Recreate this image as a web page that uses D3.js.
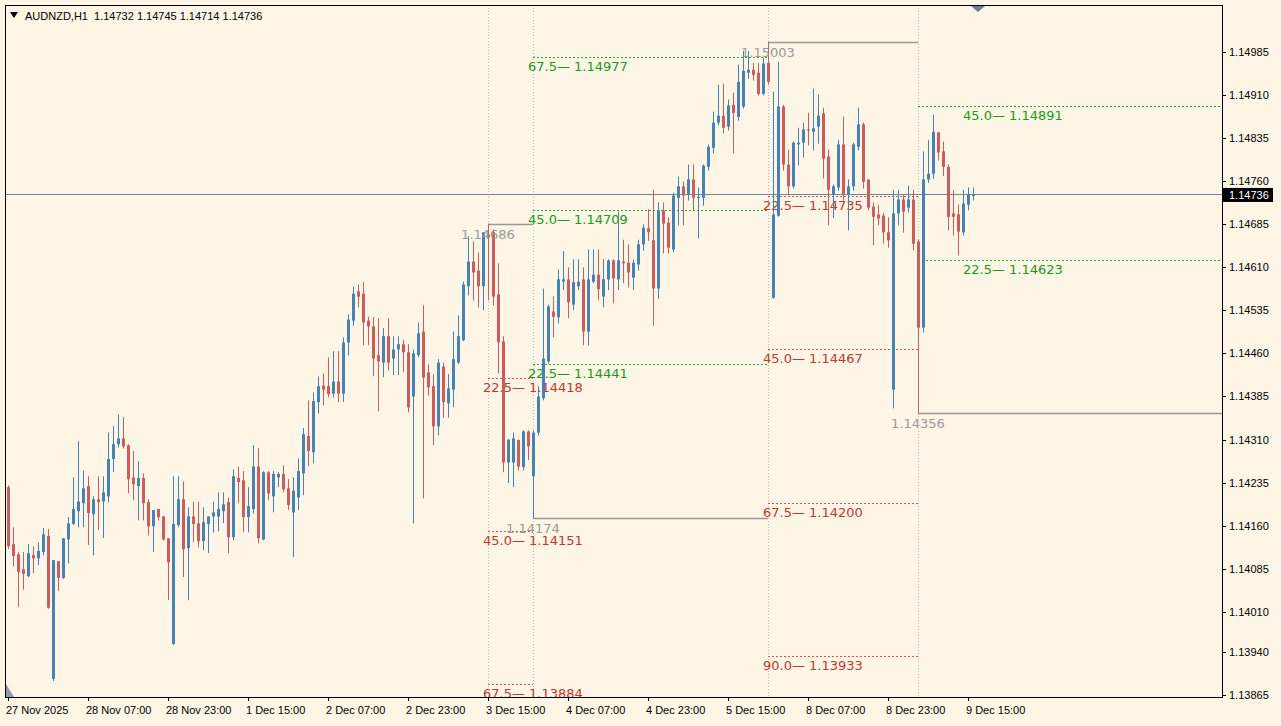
<!DOCTYPE html>
<html><head><meta charset="utf-8">
<script src="https://cdn.jsdelivr.net/npm/d3@7"></script>
<style>
body{margin:0;background:#fdf5e6;}
svg{display:block;font-family:"DejaVu Sans",sans-serif;}
</style></head>
<body><div id="content"></div>
<script>
var W = 1281, H = 726
var plotL = 5, plotR = 1222, plotT = 5, plotB = 697

var open = [1.14227,1.14128,1.14110,1.14084,1.14072,1.14109,1.14103,1.14114,1.14142,1.13893,
1.14098,1.14069,1.14136,1.14163,1.14185,1.14199,1.14229,1.14180,1.14206,1.14202,
1.14211,1.14276,1.14302,1.14312,1.14300,1.14244,1.14229,1.14243,1.14201,1.14159,
1.14189,1.14176,1.14138,1.13954,1.14161,1.14206,1.14121,1.14176,1.14164,1.14133,
1.14163,1.14176,1.14176,1.14185,1.14201,1.14140,1.14243,1.14239,1.14175,1.14189,
1.14263,1.14136,1.14253,1.14211,1.14244,1.14250,1.14225,1.14183,1.14209,1.14251,
1.14316,1.14288,1.14375,1.14404,1.14403,1.14390,1.14411,1.14390,1.14479,1.14517,
1.14568,1.14564,1.14517,1.14507,1.14457,1.14444,1.14490,1.14451,1.14467,1.14476,
1.14462,1.14385,1.14457,1.14498,1.14427,1.14403,1.14333,1.14437,1.14373,1.14397,
1.14444,1.14483,1.14577,1.14620,1.14604,1.14577,1.14667,1.14671,1.14563,1.14481,
1.14270,1.14270,1.14309,1.14262,1.14324,1.14246,1.14322,1.14382,1.14446,1.14533,
1.14523,1.14585,1.14589,1.14545,1.14577,1.14589,1.14498,1.14585,1.14597,1.14559,
1.14589,1.14622,1.14589,1.14620,1.14618,1.14592,1.14615,1.14650,1.14678,1.14657,
1.14573,1.14709,1.14688,1.14641,1.14731,1.14751,1.14737,1.14763,1.14731,1.14731,
1.14785,1.14818,1.14862,1.14874,1.14855,1.14893,1.14872,1.14890,1.14949,1.14954,
1.14949,1.14912,1.14966,1.14557,1.14700,1.14890,1.14789,1.14751,1.14824,1.14827,
1.14850,1.14846,1.14855,1.14878,1.14803,1.14737,1.14749,1.14824,1.14737,1.14751,
1.14820,1.14859,1.14763,1.14716,1.14702,1.14700,1.14671,1.14397,1.14704,1.14728,
1.14714,1.14728,1.14655,1.14505,1.14763,1.14773,1.14845,1.14812,1.14785,1.14704,
1.14702,1.14671,1.14719,1.14735]

var high = [1.14230,1.14157,1.14114,1.14114,1.14128,1.14124,1.14131,1.14156,1.14154,1.14100,
1.14098,1.14138,1.14175,1.14244,1.14307,1.14256,1.14246,1.14211,1.14246,1.14246,
1.14322,1.14333,1.14354,1.14349,1.14302,1.14290,1.14272,1.14251,1.14206,1.14187,
1.14189,1.14176,1.14138,1.14246,1.14246,1.14237,1.14192,1.14201,1.14202,1.14192,
1.14176,1.14202,1.14218,1.14218,1.14209,1.14258,1.14263,1.14255,1.14227,1.14300,
1.14295,1.14255,1.14255,1.14255,1.14253,1.14265,1.14241,1.14244,1.14277,1.14330,
1.14378,1.14392,1.14420,1.14425,1.14453,1.14464,1.14464,1.14488,1.14528,1.14577,
1.14580,1.14584,1.14524,1.14523,1.14521,1.14504,1.14521,1.14490,1.14490,1.14484,
1.14476,1.14467,1.14514,1.14544,1.14441,1.14424,1.14450,1.14444,1.14424,1.14498,
1.14526,1.14585,1.14664,1.14655,1.14636,1.14671,1.14686,1.14676,1.14617,1.14490,
1.14310,1.14322,1.14310,1.14326,1.14326,1.14326,1.14403,1.14573,1.14545,1.14559,
1.14606,1.14638,1.14610,1.14624,1.14624,1.14610,1.14641,1.14641,1.14641,1.14624,
1.14624,1.14624,1.14707,1.14658,1.14650,1.14624,1.14658,1.14685,1.14711,1.14745,
1.14723,1.14723,1.14697,1.14740,1.14768,1.14759,1.14789,1.14789,1.14749,1.14789,
1.14824,1.14881,1.14928,1.14930,1.14902,1.14914,1.14963,1.14987,1.14987,1.14966,
1.14966,1.14975,1.15003,1.14916,1.14968,1.14893,1.14815,1.14829,1.14853,1.14862,
1.14879,1.14921,1.14911,1.14888,1.14815,1.14754,1.14832,1.14872,1.14763,1.14827,
1.14888,1.14862,1.14763,1.14723,1.14719,1.14705,1.14697,1.14745,1.14745,1.14737,
1.14752,1.14745,1.14658,1.14812,1.14832,1.14876,1.14846,1.14829,1.14789,1.14745,
1.14719,1.14745,1.14749,1.14749]

var low = [1.14121,1.14091,1.14020,1.14050,1.14072,1.14079,1.14093,1.14110,1.14017,1.13891,
1.14048,1.14069,1.14096,1.14163,1.14159,1.14159,1.14128,1.14110,1.14154,1.14140,
1.14202,1.14255,1.14298,1.14296,1.14218,1.14206,1.14171,1.14171,1.14145,1.14116,
1.14171,1.14136,1.14032,1.13954,1.14159,1.14072,1.14032,1.14133,1.14124,1.14119,
1.14114,1.14150,1.14152,1.14166,1.14114,1.14136,1.14201,1.14150,1.14150,1.14183,
1.14131,1.14136,1.14206,1.14185,1.14229,1.14220,1.14189,1.14107,1.14189,1.14215,
1.14265,1.14270,1.14357,1.14371,1.14385,1.14385,1.14377,1.14377,1.14458,1.14510,
1.14542,1.14476,1.14476,1.14422,1.14361,1.14420,1.14432,1.14424,1.14424,1.14429,
1.14359,1.14166,1.14455,1.14209,1.14389,1.14302,1.14319,1.14350,1.14350,1.14368,
1.14443,1.14483,1.14563,1.14554,1.14542,1.14537,1.14554,1.14545,1.14427,1.14255,
1.14236,1.14229,1.14258,1.14258,1.14276,1.14174,1.14319,1.14380,1.14444,1.14490,
1.14514,1.14572,1.14523,1.14537,1.14572,1.14476,1.14476,1.14584,1.14554,1.14542,
1.14572,1.14549,1.14572,1.14584,1.14577,1.14572,1.14606,1.14641,1.14658,1.14510,
1.14557,1.14636,1.14636,1.14638,1.14685,1.14685,1.14728,1.14711,1.14662,1.14719,
1.14780,1.14810,1.14859,1.14845,1.14850,1.14810,1.14867,1.14888,1.14940,1.14937,
1.14911,1.14911,1.14930,1.14557,1.14700,1.14780,1.14737,1.14749,1.14789,1.14803,
1.14824,1.14815,1.14827,1.14766,1.14685,1.14697,1.14745,1.14728,1.14676,1.14745,
1.14815,1.14749,1.14711,1.14650,1.14685,1.14653,1.14646,1.14366,1.14685,1.14672,
1.14707,1.14641,1.14356,1.14498,1.14759,1.14766,1.14798,1.14771,1.14676,1.14667,
1.14632,1.14667,1.14711,1.14728]

var close = [1.14124,1.14107,1.14079,1.14076,1.14112,1.14103,1.14116,1.14145,1.14017,1.14100,
1.14069,1.14138,1.14164,1.14189,1.14202,1.14225,1.14182,1.14206,1.14201,1.14218,
1.14276,1.14302,1.14312,1.14298,1.14241,1.14232,1.14243,1.14199,1.14159,1.14187,
1.14175,1.14136,1.14096,1.14163,1.14206,1.14119,1.14176,1.14163,1.14133,1.14166,
1.14176,1.14183,1.14189,1.14197,1.14140,1.14246,1.14236,1.14175,1.14194,1.14263,
1.14138,1.14253,1.14216,1.14250,1.14250,1.14223,1.14196,1.14221,1.14255,1.14319,
1.14290,1.14377,1.14403,1.14397,1.14389,1.14411,1.14390,1.14479,1.14519,1.14564,
1.14559,1.14514,1.14507,1.14451,1.14446,1.14490,1.14444,1.14467,1.14476,1.14462,
1.14366,1.14460,1.14495,1.14418,1.14401,1.14333,1.14444,1.14375,1.14399,1.14450,
1.14490,1.14580,1.14620,1.14601,1.14577,1.14671,1.14662,1.14559,1.14479,1.14270,
1.14310,1.14312,1.14263,1.14324,1.14298,1.14322,1.14385,1.14451,1.14542,1.14524,
1.14589,1.14589,1.14549,1.14584,1.14585,1.14498,1.14589,1.14597,1.14572,1.14589,
1.14622,1.14591,1.14622,1.14617,1.14601,1.14618,1.14650,1.14679,1.14671,1.14573,
1.14709,1.14686,1.14644,1.14735,1.14751,1.14735,1.14763,1.14731,1.14733,1.14787,
1.14820,1.14862,1.14874,1.14853,1.14892,1.14879,1.14933,1.14952,1.14954,1.14945,
1.14912,1.14965,1.14933,1.14702,1.14890,1.14789,1.14751,1.14827,1.14827,1.14850,
1.14848,1.14852,1.14874,1.14799,1.14745,1.14751,1.14824,1.14737,1.14751,1.14824,
1.14859,1.14759,1.14714,1.14698,1.14695,1.14671,1.14657,1.14704,1.14728,1.14707,
1.14728,1.14651,1.14505,1.14763,1.14773,1.14846,1.14810,1.14785,1.14698,1.14698,
1.14672,1.14721,1.14737,1.14736]

// time axis: one label every 16 bars
var timeLabels = ['27 Nov 2025','28 Nov 07:00','28 Nov 23:00','1 Dec 15:00','2 Dec 07:00','2 Dec 23:00',
  '3 Dec 15:00','4 Dec 07:00','4 Dec 23:00','5 Dec 15:00','8 Dec 07:00','8 Dec 23:00','9 Dec 15:00']
var priceTicks = [1.14985,1.14910,1.14835,1.14760,1.14685,1.14610,1.14535,1.14460,1.14385,1.14310,
  1.14235,1.14160,1.14085,1.14010,1.13940,1.13865]

// swing points of the zigzag / fibo indicator
var pivotBars = [96,105,152,182]
var pivotPrices = [1.14686,1.14174,1.15003,1.14356]

var fibFrom  = [105,105,105,182,182,96,96,96,152,152,152,152]
var fibTo    = [152,152,152,null,null,105,105,105,182,182,182,182]
var fibLabelBar = [105,105,105,192,192,96,96,96,152,152,152,152]
var fibPct   = ['67.5','45.0','22.5','45.0','22.5','22.5','45.0','67.5','22.5','45.0','67.5','90.0']
var fibPrice = [1.14977,1.14709,1.14441,1.14891,1.14623,1.14418,1.14151,1.13884,1.14735,1.14467,1.14200,1.13933]
var fibUp    = [true,true,true,true,true,false,false,false,false,false,false,false]

var lastPrice = 1.14736
var header = 'AUDNZD,H1  1.14732 1.14745 1.14714 1.14736'

var bull = '#4682b4', bear = '#cd5c5c'

var x = d3.scaleLinear().domain([0, 16]).range([8, 88])
var y = d3.scaleLinear().domain([1.13865, 1.14985]).range([695, 52])

var svg = d3.select('#content').append('svg')
    .attr('width', W).attr('height', H)

svg.append('rect').attr('width', W).attr('height', H).attr('fill', '#fdf5e6')

// pivot vertical dotted lines
svg.append('g').selectAll('line').data(pivotBars).join('line')
    .attr('x1', d => Math.round(x(d)) + 0.5).attr('x2', d => Math.round(x(d)) + 0.5)
    .attr('y1', plotT).attr('y2', plotB)
    .attr('stroke', '#bbb').attr('stroke-dasharray', '1,2')

// fib lines
var fib = svg.append('g')
fib.selectAll('line').data(fibPrice).join('line')
    .attr('x1', (d, i) => x(fibFrom[i]))
    .attr('x2', (d, i) => fibTo[i] == null ? plotR : x(fibTo[i]))
    .attr('y1', d => Math.round(y(d)) + 0.5).attr('y2', d => Math.round(y(d)) + 0.5)
    .attr('stroke', (d, i) => fibUp[i] ? '#2ca02c' : '#d9534f')
    .attr('stroke-dasharray', '2,2').attr('stroke-width', 1)

// current price line
svg.append('line')
    .attr('x1', plotL).attr('x2', plotR)
    .attr('y1', Math.round(y(lastPrice)) - 0.5).attr('y2', Math.round(y(lastPrice)) - 0.5)
    .attr('stroke', '#6f86a6').attr('stroke-width', 1)

// zigzag horizontal gray lines
svg.append('g').selectAll('line').data(pivotPrices).join('line')
    .attr('x1', (d, i) => x(pivotBars[i]))
    .attr('x2', (d, i) => i < pivotBars.length - 1 ? x(pivotBars[i + 1]) : plotR)
    .attr('y1', d => Math.round(y(d)) + 0.5).attr('y2', d => Math.round(y(d)) + 0.5)
    .attr('stroke', '#999').attr('stroke-width', 1.5)

// candles
var candles = svg.append('g')
candles.selectAll('line').data(close).join('line')
    .attr('x1', (d, i) => Math.round(x(i)) + 0.5).attr('x2', (d, i) => Math.round(x(i)) + 0.5)
    .attr('y1', (d, i) => y(high[i])).attr('y2', (d, i) => y(low[i]) + 1)
    .attr('stroke', (d, i) => d >= open[i] ? bull : bear)
candles.selectAll('rect').data(close).join('rect')
    .attr('x', (d, i) => Math.round(x(i)) - 1)
    .attr('y', (d, i) => y(Math.max(d, open[i])))
    .attr('width', 3)
    .attr('height', (d, i) => Math.max(1, y(Math.min(d, open[i])) - y(Math.max(d, open[i]))))
    .attr('fill', (d, i) => d >= open[i] ? bull : bear)

// fib labels
fib.selectAll('text').data(fibPrice).join('text')
    .attr('x', (d, i) => x(fibLabelBar[i]) - 5)
    .attr('y', d => y(d) + 14)
    .attr('font-size', 13)
    .attr('fill', (d, i) => fibUp[i] ? '#1a9a1a' : '#c0392b')
    .text((d, i) => fibPct[i] + '\u2014 ' + d.toFixed(5))

// pivot labels
svg.append('g').selectAll('text').data(pivotPrices).join('text')
    .attr('x', (d, i) => x(pivotBars[i]))
    .attr('y', d => y(d) + 15)
    .attr('text-anchor', 'middle')
    .attr('font-size', 13)
    .attr('fill', '#9a9a9a')
    .text(d => d.toFixed(5))

// frame
svg.append('rect').attr('x', plotL + 0.5).attr('y', plotT + 0.5)
    .attr('width', plotR - plotL).attr('height', plotB - plotT)
    .attr('fill', 'none').attr('stroke', '#000')

// price axis
var pa = svg.append('g').attr('font-family', 'Liberation Sans, Arial, sans-serif').attr('font-size', 11)
pa.selectAll('line').data(priceTicks).join('line')
    .attr('x1', plotR).attr('x2', plotR + 4)
    .attr('y1', d => Math.round(y(d)) + 0.5).attr('y2', d => Math.round(y(d)) + 0.5)
    .attr('stroke', '#000')
pa.selectAll('text').data(priceTicks).join('text')
    .attr('x', 1229).attr('y', d => y(d) + 4)
    .text(d => d.toFixed(5))

// last price box
var lp = svg.append('g')
lp.append('rect').attr('x', 1223).attr('y', y(lastPrice) - 7).attr('width', 50).attr('height', 14).attr('fill', '#000')
lp.append('text').attr('x', 1229).attr('y', y(lastPrice) + 4)
    .attr('font-family', 'Liberation Sans, Arial, sans-serif').attr('font-size', 11)
    .attr('fill', '#fff').text(lastPrice.toFixed(5))

// time axis
var ta = svg.append('g').attr('font-family', 'Liberation Sans, Arial, sans-serif').attr('font-size', 11)
ta.selectAll('line').data(timeLabels).join('line')
    .attr('x1', (d, i) => Math.round(x(i * 16)) + 0.5).attr('x2', (d, i) => Math.round(x(i * 16)) + 0.5)
    .attr('y1', plotB).attr('y2', plotB + 4).attr('stroke', '#000')
ta.selectAll('text').data(timeLabels).join('text')
    .attr('x', (d, i) => x(i * 16) - 2).attr('y', 714)
    .text(d => d)

// header
svg.append('path').attr('d', 'M10,12 L18,12 L14,18 Z').attr('fill', '#000')
svg.append('text').attr('x', 25).attr('y', 20)
    .attr('font-family', 'Liberation Sans, Arial, sans-serif').attr('font-size', 11)
    .attr('xml:space', 'preserve').style('white-space', 'pre')
    .text(header)

// shift markers
svg.append('path').attr('d', 'M971,6 L985,6 L978,12 Z').attr('fill', '#6b7f99')
svg.append('path').attr('d', 'M6,684 L6,697 L14,697 Z').attr('fill', '#8a9bb0')
</script>
</body></html>
